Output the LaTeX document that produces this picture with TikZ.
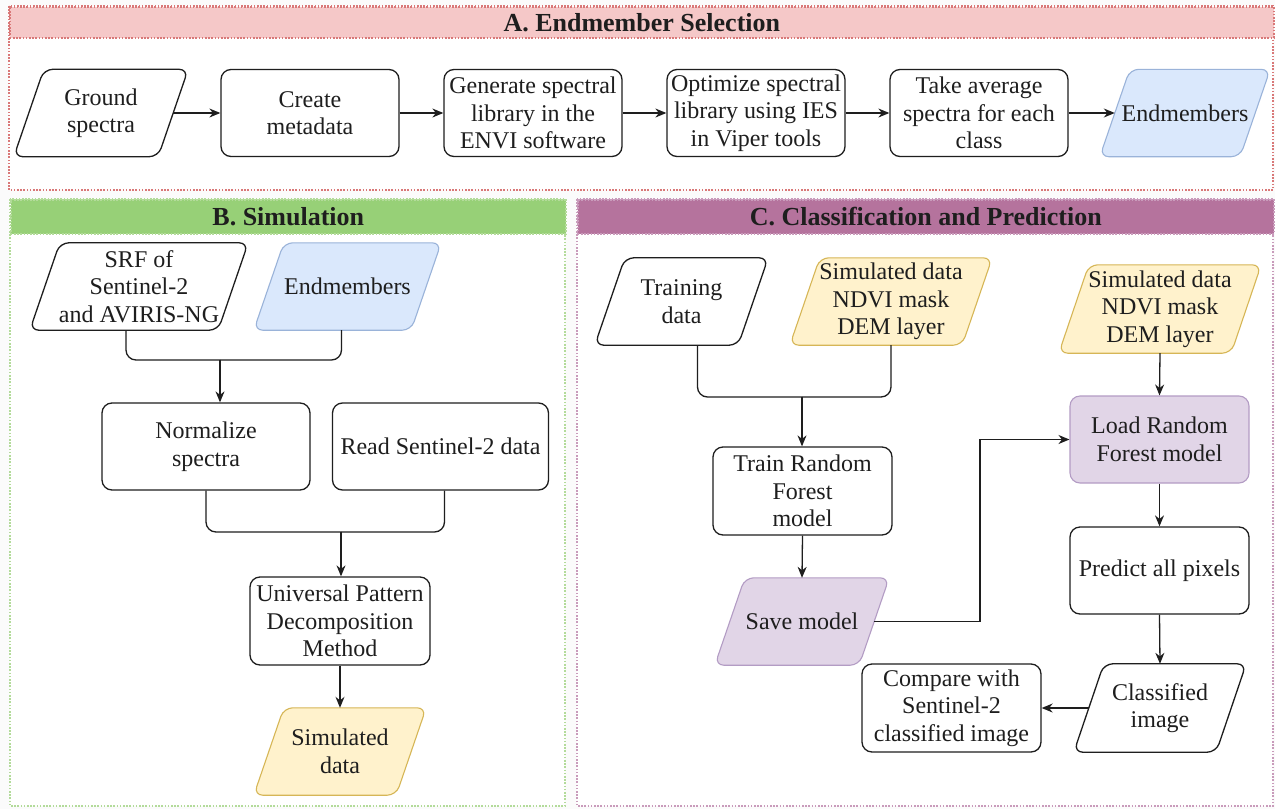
\documentclass[tikz,border=0pt]{standalone}
\usepackage{fontspec}
\setmainfont{Liberation Serif}
\usetikzlibrary{arrows.meta,calc}
\pgfdeclarelayer{back}
\pgfdeclarelayer{shapes}
\pgfsetlayers{back,shapes,main}

\definecolor{pinkhead}{HTML}{F5C8C8}
\definecolor{pinkline}{HTML}{D97878}
\definecolor{greenhead}{HTML}{97D077}
\definecolor{greenline}{HTML}{B3DB9A}
\definecolor{purphead}{HTML}{B5739D}
\definecolor{purpline}{HTML}{C99BBB}
\definecolor{bluefill}{HTML}{DAE8FC}
\definecolor{blueline}{HTML}{9AB3D9}
\definecolor{yelfill}{HTML}{FFF2CC}
\definecolor{yelline}{HTML}{D6B656}
\definecolor{purfill}{HTML}{E1D5E7}
\definecolor{purline}{HTML}{B39CC4}
\definecolor{ink}{HTML}{1E1E1E}
\definecolor{bgc}{HTML}{FBFBFB}

\newcommand\paral[2]{%
  \begin{pgfonlayer}{shapes}
  \draw[#2] ([xshift=30pt]#1.north west) -- (#1.north east) -- ([xshift=-30pt]#1.south east) -- (#1.south west) -- cycle;
  \end{pgfonlayer}}

\tikzset{
  txt/.style={font=\fontsize{24}{27.5}\selectfont, text=ink, align=center, inner sep=0pt},
  procbox/.style={txt, draw=ink, line width=1.3pt, rounded corners=10pt, fill=white, minimum height=87pt},
  iobox/.style={txt, minimum height=87pt},
  pblack/.style={draw=ink, line width=1.3pt, rounded corners=9pt, fill=white},
  pblue/.style={draw=blueline, line width=1.1pt, rounded corners=9pt, fill=bluefill},
  pyel/.style={draw=yelline, line width=1.1pt, rounded corners=9pt, fill=yelfill},
  ppur/.style={draw=purline, line width=1.1pt, rounded corners=9pt, fill=purfill},
  purbox/.style={txt, draw=purline, line width=1.1pt, rounded corners=10pt, fill=purfill, minimum height=87pt},
  conn/.style={draw=ink, line width=1.3pt},
  arr/.style={conn, -{Stealth[length=11pt,width=9pt]}},
  dots/.style={line width=1.6pt, dash pattern=on 1.6pt off 1.6pt},
  head/.style={font=\fontsize{26}{30}\selectfont\bfseries, text=ink, inner sep=0pt, anchor=north west, dots},
}

\begin{document}
\begin{tikzpicture}[x=1pt, y=-1pt]
\useasboundingbox (0,0) rectangle (1275,809);

\begin{pgfonlayer}{back}
\fill[bgc] (0,0) rectangle (1275,809);
% Section A
\draw[dots, draw=pinkline, fill=white] (9,6) rectangle (1273,190);
\node[head, fill=pinkhead, draw=pinkline, minimum width=1264pt, minimum height=31pt] (hA) at (9,6) {A. Endmember Selection};
% Section B
\draw[dots, draw=greenline, fill=white] (10,199) rectangle (565,806);
\node[head, fill=greenhead, draw=greenline, minimum width=555pt, minimum height=34pt] (hB) at (10,199) {B. Simulation};
% Section C
\draw[dots, draw=purpline, fill=white] (577,199) rectangle (1273,806);
\node[head, fill=purphead, draw=purpline, minimum width=696pt, minimum height=34pt] (hC) at (577,199) {C. Classification and Prediction};
\end{pgfonlayer}

% ---------- Section A ----------
\node[iobox, minimum width=174pt] (gs) at (101,113) {Ground\\spectra};
\paral{gs}{pblack}
\node[procbox, minimum width=178pt] (cm) at (310,113) {Create\\metadata};
\node[procbox, minimum width=178pt] (gen) at (533,113) {Generate spectral\\library in the\\ENVI software};
\node[procbox, minimum width=178pt] (opt) at (756,113) {Optimize spectral\\library using IES\\in Viper tools};
\node[procbox, minimum width=178pt] (avg) at (979,113) {Take average\\spectra for each\\class};
\node[iobox, minimum width=170pt] (emA) at (1185,113) {Endmembers};
\paral{emA}{pblue}

\draw[arr] ([xshift=-15pt]gs.east) -- (cm.west);
\draw[arr] (cm.east) -- (gen.west);
\draw[arr] (gen.east) -- (opt.west);
\draw[arr] (opt.east) -- (avg.west);
\draw[arr] (avg.east) -- ([xshift=15pt]emA.west);

% ---------- Section B ----------
\node[iobox, minimum width=218pt] (srf) at (139,286.5) {SRF of\\Sentinel-2\\and AVIRIS-NG};
\paral{srf}{pblack}
\node[iobox, minimum width=187pt] (emB) at (347.5,286.5) {Endmembers};
\paral{emB}{pblue}
\node[procbox, minimum width=208pt] (norm) at (206,446.5) {Normalize\\spectra};
\node[procbox, minimum width=216pt] (read) at (440.5,446.5) {Read Sentinel-2 data};
\node[procbox, minimum width=180pt, minimum height=88pt] (upd) at (340,621) {Universal Pattern\\Decomposition\\Method};
\node[iobox, minimum width=172pt] (simB) at (340,751.5) {Simulated\\data};
\paral{simB}{pyel}

\coordinate (mB1) at (220,360);
\draw[conn, rounded corners=10pt] ([xshift=-13pt]srf.south) |- (mB1);
\draw[conn, rounded corners=10pt] ([xshift=-6pt]emB.south) |- (mB1);
\draw[arr] (mB1) -- (mB1 |- norm.north);

\coordinate (mB2) at (341,532);
\draw[conn, rounded corners=10pt] (norm.south) |- (mB2);
\draw[conn, rounded corners=10pt] ([xshift=4pt]read.south) |- (mB2);
\draw[arr] (mB2) -- (mB2 |- upd.north);
\draw[arr] (upd.south) -- (simB.north);

% ---------- Section C ----------
\node[iobox, minimum width=173pt] (train) at (681.5,301.5) {Training\\data};
\paral{train}{pblack}
\node[iobox, minimum width=202pt] (sim1) at (891,301.5) {Simulated data\\NDVI mask\\DEM layer};
\paral{sim1}{pyel}
\node[procbox, minimum width=179pt, minimum height=88pt] (trf) at (802.5,491) {Train Random\\Forest\\model};
\node[iobox, minimum width=174pt] (save) at (802,621.5) {Save model};
\paral{save}{ppur}
\node[iobox, minimum width=202pt, minimum height=88pt] (sim2) at (1160,309) {Simulated data\\NDVI mask\\DEM layer};
\paral{sim2}{pyel}
\node[purbox, minimum width=179pt] (load) at (1159.5,439.5) {Load Random\\Forest model};
\node[procbox, minimum width=179pt] (pred) at (1159.5,570.5) {Predict all pixels};
\node[iobox, minimum width=172pt, minimum height=88pt] (cls) at (1160,708) {Classified\\image};
\paral{cls}{pblack}
\node[procbox, minimum width=179pt, minimum height=88pt] (cmp) at (951.5,708) {Compare with\\Sentinel-2\\classified image};

\coordinate (mC1) at (802,397);
\draw[conn, rounded corners=10pt] ([xshift=16pt]train.south) |- (mC1);
\draw[conn, rounded corners=10pt] (sim1.south) |- (mC1);
\draw[arr] (mC1) -- (mC1 |- trf.north);
\draw[arr] (trf.south) -- (save.north);

\coordinate (bend) at (980,621.5);
\draw[arr] ([xshift=-15pt]save.east) -- (bend) |- (load.west);

\draw[arr] (sim2.south) -- (load.north);
\draw[arr] (load.south) -- (pred.north);
\draw[arr] (pred.south) -- (cls.north);
\draw[arr] ([xshift=15pt]cls.west) -- (cmp.east);
\end{tikzpicture}
\end{document}
